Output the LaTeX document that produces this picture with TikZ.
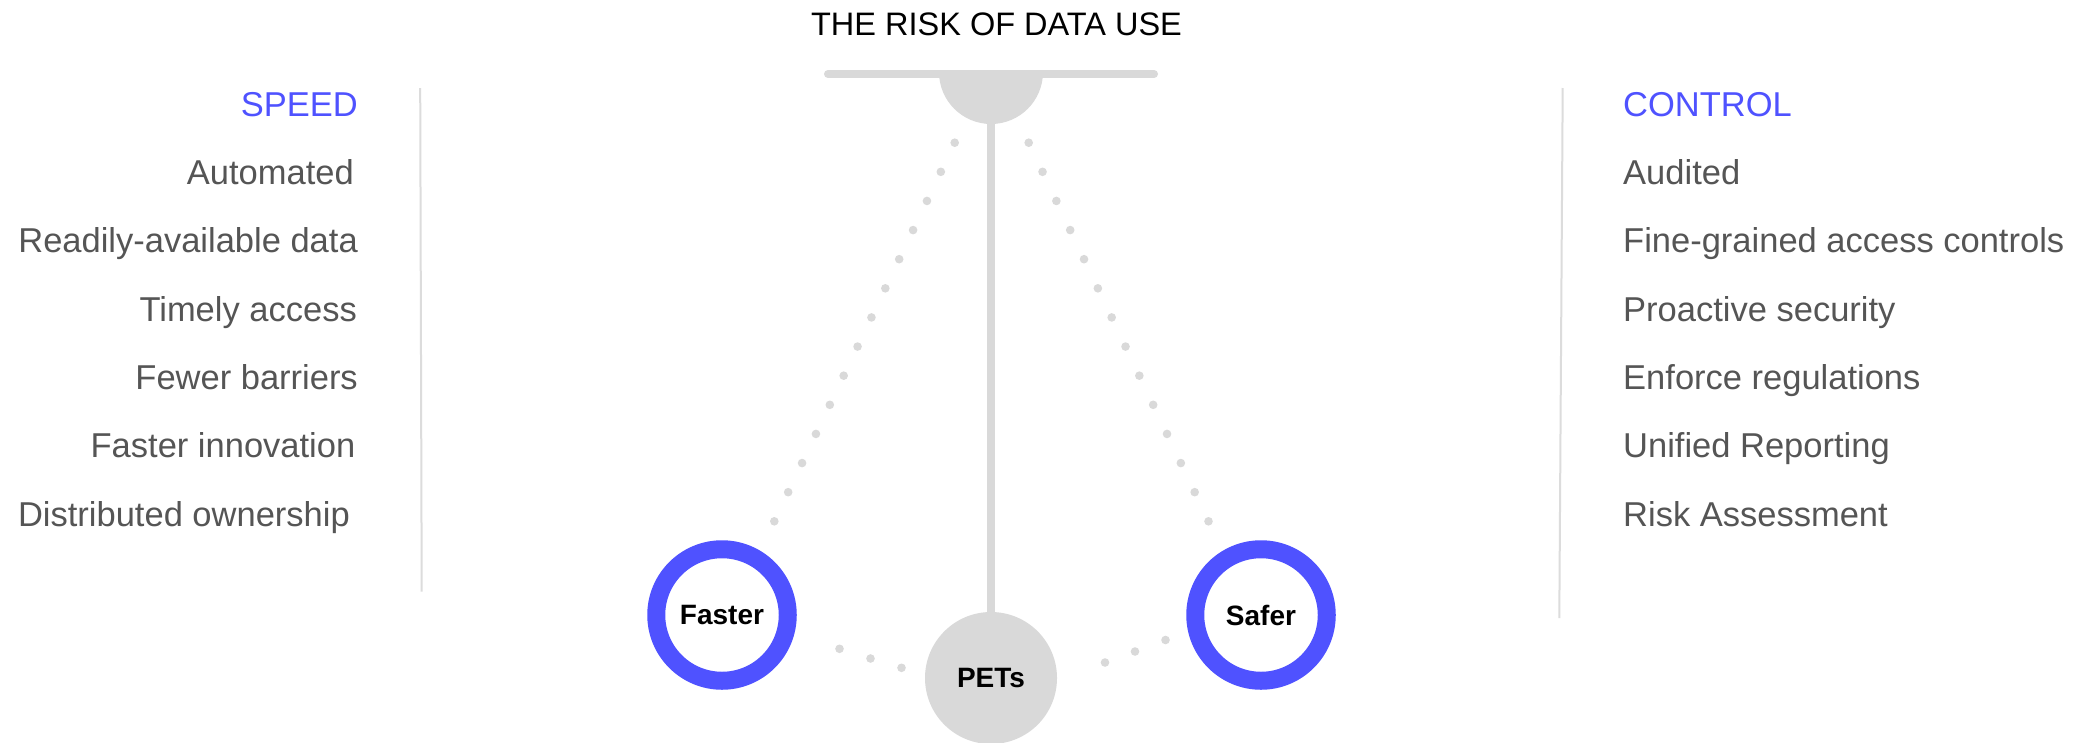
\documentclass[tikz,border=0pt]{standalone}
\usepackage{fontspec}
\setmainfont{Liberation Sans}
\usetikzlibrary{calc}
\definecolor{accent}{HTML}{4F52FF}
\definecolor{lightg}{HTML}{D9D9D9}
\definecolor{rulec}{HTML}{DCDCDC}
\definecolor{itemc}{HTML}{555555}
\tikzset{
  itemtxt/.style={inner sep=0pt, text=itemc, font=\fontsize{34.5}{40}\selectfont},
  headtxt/.style={inner sep=0pt, text=accent, font=\fontsize{34.5}{40}\selectfont},
  ring/.style={circle, draw=accent, line width=18pt, minimum size=131.5pt, inner sep=0pt, fill=white,
               font=\fontsize{28}{32}\selectfont\bfseries, text=black},
  petsnode/.style={circle, fill=lightg, minimum size=132pt, inner sep=0pt,
               font=\fontsize{28}{32}\selectfont\bfseries, text=black},
  dotc/.style={fill=lightg},
  greyline/.style={draw=lightg, line width=8pt},
  divider/.style={draw=rulec, line width=2pt}
}
\begin{document}
\begin{tikzpicture}[x=1pt, y=-1pt]
\useasboundingbox[fill=white] (0,0) rectangle (2093,742);

% title
\node[inner sep=0pt, anchor=base, font=\fontsize{32.5}{38}\selectfont, text=black] (title) at (996.5,35) {THE RISK OF DATA USE};

% top bar and hub
\coordinate (barL) at (828,74);
\coordinate (barR) at (1154,74);
\draw[greyline, line cap=round] (barL) -- (barR);
\coordinate (hubc) at (991,72);
\fill[lightg] ($(hubc)+(-52,0)$) arc[start angle=180, end angle=0, radius=52] -- cycle;
\coordinate (hub) at (991,118);

% PETs and rings
\node[petsnode] (pets) at (991,678) {PETs};
\node[ring] (faster) at (722,615) {Faster};
\node[ring] (safer) at (1261,615) {Safer};

% pole
\draw[greyline] (hub) -- (pets.north);

% dotted diagonals
\coordinate (dl1) at (954.7,142.7);
\coordinate (dl2) at (774.3,521.3);
\coordinate (dr1) at (1028.7,142.7);
\coordinate (dr2) at (1208.5,521.3);
\foreach \t in {0,...,13} {
  \fill[dotc] ($(dl1)!\t/13!(dl2)$) circle (4.3);
  \fill[dotc] ($(dr1)!\t/13!(dr2)$) circle (4.3);
}
% bottom dots
\foreach \p in {(839.5,648.8),(870.5,658.5),(901.5,667.8),(1105,662.5),(1135,651.5),(1165.5,640)} {
  \fill[dotc] \p circle (4.3);
}

% dividers
\coordinate (dvl1) at (420.2,88);
\coordinate (dvl2) at (421.7,591.5);
\coordinate (dvr1) at (1562.7,88);
\coordinate (dvr2) at (1559.3,618);
\draw[divider] (dvl1) -- (dvl2);
\draw[divider] (dvr1) -- (dvr2);

% left list
\node[headtxt, anchor=base east] (speed) at (358,116) {SPEED};
\node[itemtxt, anchor=base east] (l1) at (354,184.5) {Automated};
\node[itemtxt, anchor=base east] (l2) at (358,252.8) {Readily-available data};
\node[itemtxt, anchor=base east] (l3) at (357,321) {Timely access};
\node[itemtxt, anchor=base east] (l4) at (358,389.3) {Fewer barriers};
\node[itemtxt, anchor=base east] (l5) at (355.5,457.6) {Faster innovation};
\node[itemtxt, anchor=base east] (l6) at (350,526) {Distributed ownership};

% right list
\node[headtxt, anchor=base west] (control) at (1623,116) {CONTROL};
\node[itemtxt, anchor=base west] (r1) at (1623,184.5) {Audited};
\node[itemtxt, anchor=base west] (r2) at (1623,252.8) {Fine-grained access controls};
\node[itemtxt, anchor=base west] (r3) at (1623,321) {Proactive security};
\node[itemtxt, anchor=base west] (r4) at (1623,389.3) {Enforce regulations};
\node[itemtxt, anchor=base west] (r5) at (1623,457.6) {Unified Reporting};
\node[itemtxt, anchor=base west] (r6) at (1623,526) {Risk Assessment};
\end{tikzpicture}
\end{document}
